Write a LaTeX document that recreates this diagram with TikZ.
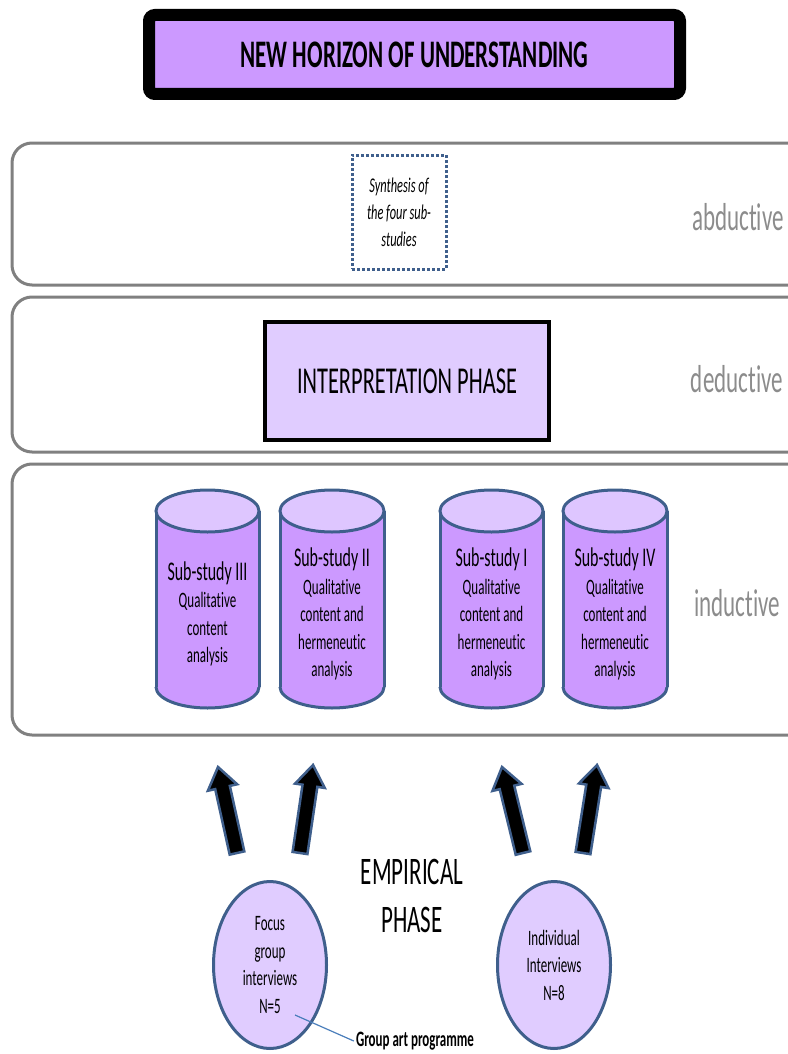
\documentclass[tikz,border=0pt]{standalone}
\usepackage{fontspec}
\setmainfont{Carlito}[FakeStretch=0.59, Ligatures=NoCommon]
\usetikzlibrary{calc,shapes.geometric}
\definecolor{lav}{HTML}{CC99FF}
\definecolor{lavl}{HTML}{E0CCFF}
\definecolor{lavt}{HTML}{DEC6FF}
\definecolor{edgec}{HTML}{3F5F8C}
\definecolor{bandc}{HTML}{808080}
\definecolor{labc}{HTML}{8C8C8C}
\definecolor{linkc}{HTML}{4A7EBB}
\newcommand\mycyl[4]{%
  \fill[lav] (#2,511) rectangle (#3,687);
  \fill[lav] ({(#2+#3)/2},687) ellipse [x radius={(#3-#2)/2}, y radius=21];
  \begin{scope}
    \clip ({#2-5},687) rectangle ({#3+5},720);
    \draw[cylline] ({(#2+#3)/2},687) ellipse [x radius={(#3-#2)/2}, y radius=21];
  \end{scope}
  \draw[cylline] (#2,511) -- (#2,687);
  \draw[cylline] (#3,511) -- (#3,687);
  \filldraw[cylline, fill=lavt] ({(#2+#3)/2},511) ellipse [x radius={(#3-#2)/2}, y radius=21];
  \node[cyltext] (#1) at ({(#2+#3)/2},614) {#4};
}
\newcommand\blockarrow[5]{%
  \coordinate (#1t) at (#2,#3);
  \coordinate (#1p) at (#4,#5);
  \coordinate (#1h) at ($(#1p)!21pt!(#1t)$);
  \filldraw[blockar] ($(#1t)!7.5pt!90:(#1p)$) -- ($(#1h)!7.5pt!-90:(#1t)$) -- ($(#1h)!15pt!-90:(#1t)$)
     -- (#1p) -- ($(#1h)!15pt!90:(#1t)$) -- ($(#1h)!7.5pt!90:(#1t)$) -- ($(#1t)!7.5pt!-90:(#1p)$) -- cycle;
}
\begin{document}
\begin{tikzpicture}[x=1pt,y=-1pt,
  band/.style={draw=bandc, line width=3pt, rounded corners=20pt},
  lab/.style={text=labc, font=\fontsize{39}{40}\selectfont, inner sep=0},
  cylline/.style={draw=edgec, line width=3pt},
  cyltext/.style={align=center, font=\fontsize{22}{27.5}\selectfont, inner sep=0},
  blob/.style={ellipse, draw=edgec, line width=3pt, fill=lavl, minimum width=113pt, minimum height=167pt, inner sep=0, align=center, font=\fontsize{22}{27.5}\selectfont},
  blockar/.style={fill=black, draw=edgec, line width=2.5pt, line join=miter},
  big/.style={font=\fontsize{39}{48}\selectfont, align=center, inner sep=0}
]
\useasboundingbox (0,0) rectangle (787,1054);

% title
\node[draw=black, line width=12pt, fill=lav, rounded corners=6pt, minimum width=531pt, minimum height=79pt,
      font=\bfseries\fontsize{39}{40}\selectfont] (title) at (414.5,54.5) {NEW HORIZON OF UNDERSTANDING};

% bands
\draw[band] (12,143) rectangle (810,285);
\draw[band] (12,297) rectangle (810,452);
\draw[band] (12,464) rectangle (810,735);
\node[lab] (abd) at (738,217) {abductive};
\node[lab] (ded) at (737,379) {deductive};
\node[lab] (ind) at (737,603) {inductive};

% synthesis
\node[draw=edgec, line width=3pt, dash pattern=on 3pt off 2pt, minimum width=94pt, minimum height=114pt,
      align=center, font=\itshape\fontsize{21}{27}\selectfont, inner sep=0] (syn) at (399,212)
      {Synthesis of\\the four sub-\\studies};

% interpretation
\node[draw=black, line width=4pt, fill=lavl, minimum width=284pt, minimum height=118pt,
      font=\fontsize{38}{40}\selectfont] (interp) at (407,381) {INTERPRETATION PHASE};

% cylinders
\mycyl{c3}{156}{259}{{\fontsize{27}{27.5}\selectfont Sub-study III}\\Qualitative\\content\\analysis}
\mycyl{c2}{280}{384}{{\fontsize{27}{27.5}\selectfont Sub-study II}\\Qualitative\\content and\\hermeneutic\\analysis}
\mycyl{c1}{440}{543}{{\fontsize{27}{27.5}\selectfont Sub-study I}\\Qualitative\\content and\\hermeneutic\\analysis}
\mycyl{c4}{563}{667}{{\fontsize{27}{27.5}\selectfont Sub-study IV}\\Qualitative\\content and\\hermeneutic\\analysis}

% arrows
\blockarrow{a1}{237}{853}{218}{767}
\blockarrow{a2}{300}{853}{313}{765}
\blockarrow{a3}{523}{853}{502}{767}
\blockarrow{a4}{583}{853}{597}{765}

% empirical
\node[big] (emp) at (412,896) {EMPIRICAL\\PHASE};

% ellipses
\node[blob] (focus) at (270,965) {Focus\\group\\interviews\\N=5};
\node[blob] (indiv) at (554,965) {Individual\\Interviews\\N=8};

\node[font=\bfseries\fontsize{22}{24}\selectfont, inner sep=0] (gart) at (415,1041) {Group art programme};
\coordinate (gstart) at (295,1015);
\draw[linkc, line width=1.2pt] (gstart) -- ([xshift=-2pt]gart.west);
\end{tikzpicture}
\end{document}
